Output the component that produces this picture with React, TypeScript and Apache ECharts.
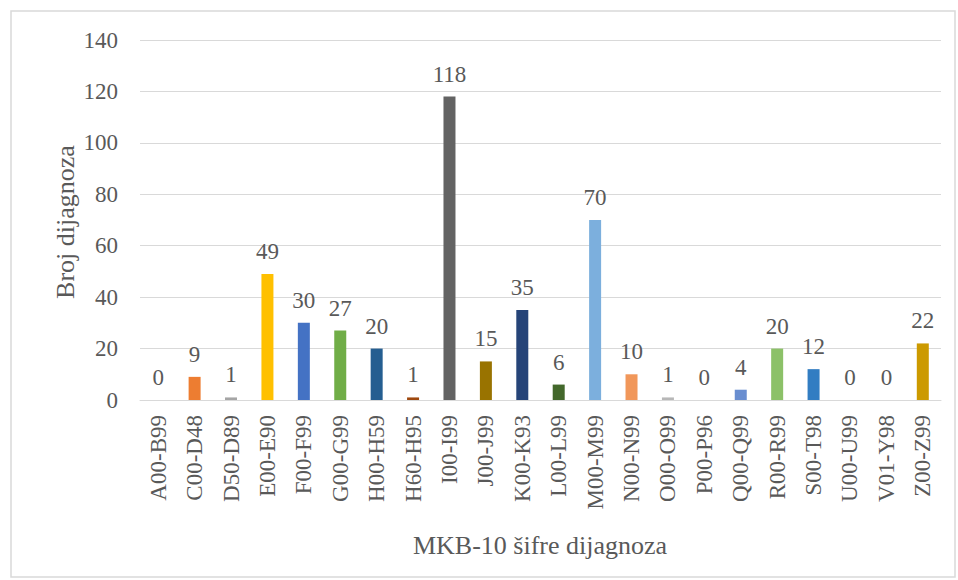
import React, { useEffect, useRef } from "react";
import * as echarts from "echarts";

const categories = [
  "A00-B99", "C00-D48", "D50-D89", "E00-E90", "F00-F99", "G00-G99", "H00-H59", "H60-H95",
  "I00-I99", "J00-J99", "K00-K93", "L00-L99", "M00-M99", "N00-N99", "O00-O99", "P00-P96",
  "Q00-Q99", "R00-R99", "S00-T98", "U00-U99", "V01-Y98", "Z00-Z99",
];
const values = [0, 9, 1, 49, 30, 27, 20, 1, 118, 15, 35, 6, 70, 10, 1, 0, 4, 20, 12, 0, 0, 22];
const barColors = [
  "#5B9BD5", "#ED7D31", "#A5A5A5", "#FFC000", "#4472C4", "#70AD47", "#255E91", "#9E480E",
  "#636363", "#997300", "#264478", "#43682B", "#7CAFDD", "#F1975A", "#B7B7B7", "#FFCD33",
  "#698ED0", "#8CC168", "#327DC2", "#D26012", "#848484", "#CC9A00",
];
const yTitle = "Broj dijagnoza";
const xTitle = "MKB-10 šifre dijagnoza";

const FONT = "Liberation Serif, Times New Roman, serif";
const TXT = "#595959";

export default function App() {
  const ref = useRef<HTMLDivElement>(null);
  useEffect(() => {
    document.body.style.margin = "0";
    const chart = echarts.init(ref.current!, null, { renderer: "svg" });
    chart.setOption({
      animation: false,
      backgroundColor: "#ffffff",
      textStyle: { fontFamily: FONT },
      grid: { left: 140, right: 17, top: 40, bottom: 180 },
      xAxis: {
        type: "category",
        data: categories,
        axisTick: { show: false },
        axisLine: { lineStyle: { color: "#D9D9D9", width: 1 } },
        axisLabel: {
          interval: 0,
          rotate: 90,
          margin: 15,
          color: TXT,
          fontFamily: FONT,
          fontSize: 23,
        },
      },
      yAxis: {
        type: "value",
        min: 0,
        max: 140,
        interval: 20,
        axisLine: { show: false },
        axisTick: { show: false },
        splitLine: { lineStyle: { color: "#D9D9D9", width: 1 } },
        axisLabel: { margin: 22, color: TXT, fontFamily: FONT, fontSize: 23 },
      },
      series: [
        {
          type: "bar",
          barWidth: 12,
          data: values.map((v, i) => ({ value: v, itemStyle: { color: barColors[i] } })),
          label: {
            show: true,
            position: "top",
            distance: 11,
            color: TXT,
            fontFamily: FONT,
            fontSize: 23,
          },
        },
      ],
      graphic: [
        {
          type: "rect",
          shape: { x: 11, y: 11, width: 944, height: 566 },
          style: { fill: "none", stroke: "#D9D9D9", lineWidth: 1.5 },
          silent: true,
        },
        {
          type: "text",
          x: 65,
          y: 222,
          rotation: Math.PI / 2,
          style: {
            text: yTitle,
            fill: TXT,
            fontFamily: FONT,
            fontSize: 26,
            align: "center",
            verticalAlign: "middle",
          },
        },
        {
          type: "text",
          x: 540,
          y: 545,
          style: {
            text: xTitle,
            fill: TXT,
            fontFamily: FONT,
            fontSize: 26,
            align: "center",
            verticalAlign: "middle",
          },
        },
      ],
    });
    return () => chart.dispose();
  }, []);
  return <div ref={ref} style={{ width: 958, height: 580 }} />;
}
